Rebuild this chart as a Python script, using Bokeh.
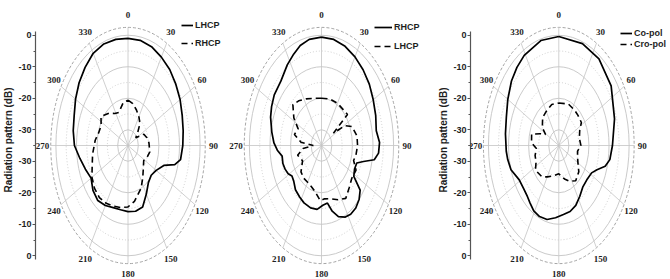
import numpy as np
from bokeh.plotting import figure
from bokeh.models import (Range1d, LinearAxis, FixedTicker, Legend, LegendItem,
                          ColumnDataSource, LabelSet)
from bokeh.layouts import row
from bokeh.embed import file_html
from bokeh.resources import INLINE

# ---------------- data ----------------
DB_MIN = -35.0          # centre of the polar plots
DB_OUTER = 2.5          # outer frame ring
ring_major_db = [-30, -20, -10, 0]
ring_minor_db = [-25, -15, -5]
angle_ticks = [0, 30, 60, 90, 120, 150, 180, 210, 240, 270, 300, 330]
angle_labels = [str(a) for a in angle_ticks]
axis_db_ticks = [0, -10, -20, -30]
axis_title = "Radiation pattern (dB)"

# panel 1
p1_lhcp_ang = [0, 10, 20, 30, 40, 50, 60, 70, 80, 90, 100, 105, 110, 120, 130, 140, 150, 160, 170,
               180, 190, 200, 210, 220, 230, 240, 250, 260, 270, 280, 290, 300, 310, 320, 330, 340, 350]
p1_lhcp_db = [-1.0, -1.1, -1.6, -2.6, -3.5, -4.7, -5.8, -7.0, -7.8, -8.4, -9.1, -11.5, -16.5, -19.2,
              -20.3, -19.6, -17.2, -14.2, -13.8, -14.0, -14.3, -14.0, -13.0, -12.2, -12.8, -14.3,
              -13.0, -11.3, -9.0, -8.0, -7.2, -5.6, -4.0, -2.6, -1.2, -0.7, -0.8]
p1_rhcp_ang = [0, 10, 20, 31, 40, 50, 57, 65, 75, 85, 101, 112, 122, 135, 145, 155, 163, 170, 180,
               190, 200, 210, 220, 230, 240, 250, 261, 276, 286, 296, 305, 318, 328, 337, 350]
p1_rhcp_db = [-20.6, -21.5, -23.0, -24.6, -26.0, -29.0, -30.5, -26.5, -25.5, -24.8, -24.2, -25.0,
              -26.0, -24.5, -22.5, -20.0, -18.7, -17.0, -15.5, -15.0, -14.5, -13.8, -13.4, -13.8,
              -14.8, -16.5, -17.6, -19.0, -20.2, -20.5, -19.0, -21.2, -23.0, -23.6, -21.3]
p1_names = ["LHCP", "RHCP"]

# panel 2
p2_rhcp_ang = [0, 10, 20, 30, 40, 50, 60, 70, 80, 88, 95, 100, 104, 108, 115, 122, 127, 133, 140,
               147, 153, 160, 166, 171, 178, 186, 195, 205, 213, 222, 230, 236, 241, 247, 253, 260,
               266, 272, 280, 290, 297, 305, 316, 327, 335, 342, 350]
p2_rhcp_db = [-0.6, -0.8, -1.5, -2.5, -3.6, -4.7, -6.0, -7.0, -8.0, -6.8, -7.2, -9.0, -14.0, -17.0,
              -17.3, -16.5, -11.5, -10.0, -9.1, -9.0, -9.5, -11.0, -13.5, -16.5, -16.0, -14.6,
              -14.5, -14.9, -15.5, -16.1, -17.4, -17.7, -16.5, -15.8, -15.4, -15.6, -13.5, -11.9,
              -10.5, -8.7, -7.8, -7.0, -6.6, -4.5, -3.0, -1.6, -0.8]
p2_lhcp_ang = [0, 15, 30, 45, 52, 56, 61, 68, 80, 90, 100, 107, 115, 125, 135, 145, 155, 165, 175,
               182, 192, 200, 210, 220, 230, 242, 255, 264, 270, 276, 285, 295, 303, 313, 322, 333, 345]
p2_lhcp_db = [-20.0, -19.7, -19.5, -19.4, -19.0, -28.0, -22.0, -19.0, -17.5, -17.5, -18.0, -18.7,
              -16.5, -17.0, -16.0, -14.5, -16.0, -17.5, -18.0, -17.5, -20.0, -21.0, -21.5, -21.5,
              -22.0, -24.6, -23.0, -26.0, -31.0, -25.0, -21.4, -22.5, -19.0, -16.0, -17.0, -18.4, -19.5]
p2_names = ["RHCP", "LHCP"]

# panel 3
p3_co_ang = [0, 20, 36, 54, 73, 90, 100, 106, 112, 118, 128, 138, 147, 156, 165, 174, 184, 194, 203,
             211, 218, 224, 232, 241, 252, 260, 266, 278, 289, 300, 311, 320, 329, 345]
p3_co_db = [-0.4, -0.6, -1.0, -2.8, -6.0, -8.3, -9.2, -11.0, -14.5, -16.5, -17.3, -17.2, -15.8, -14.2,
            -13.3, -13.0, -12.0, -10.8, -10.5, -10.8, -11.8, -12.5, -12.8, -12.5, -10.0, -9.2, -8.8,
            -8.2, -7.4, -5.7, -3.8, -2.6, -1.6, -0.5]
p3_cx_ang = [0, 20, 35, 45, 57, 65, 77, 90, 101, 111, 120, 130, 143, 155, 165, 180, 195, 210, 220,
             236, 245, 255, 265, 274, 285, 292, 298, 305, 318, 330, 345]
p3_cx_db = [-21.5, -21.0, -21.3, -21.5, -21.6, -23.5, -24.5, -24.0, -25.5, -25.0, -24.0, -22.0, -21.0,
            -22.5, -24.0, -26.0, -25.0, -23.5, -22.0, -21.0, -22.5, -22.8, -23.8, -21.4, -21.0, -25.0,
            -27.5, -25.0, -23.0, -22.5, -21.5]
p3_names = ["Co-pol", "Cro-pol"]

# ---------------- style / layout ----------------
H = 279
SX = 2.06   # px per dB horizontally
SY = 3.15   # px per dB vertically
CY = 145    # centre y within figure (px from top)
SANS = "Liberation Sans"
GRID = "#c4c4c4"
TXT = "#1e1e1e"


def polar_xy(ang, db):
    a = np.radians(np.asarray(list(ang) + [ang[0]], float))
    r = np.asarray(list(db) + [db[0]], float) - DB_MIN
    return r * np.sin(a), r * np.cos(a)


def panel(width, left_border, cx, with_axis):
    xlo = (left_border - cx) / SX
    xhi = (width - cx) / SX
    yhi = CY / SY
    ylo = -(H - CY) / SY
    p = figure(width=width, height=H, x_range=Range1d(xlo, xhi), y_range=Range1d(ylo, yhi),
               x_axis_type=None, y_axis_type=None, output_backend="svg", toolbar_location=None,
               min_border_left=left_border, min_border_right=0, min_border_top=0,
               min_border_bottom=0, outline_line_color=None, background_fill_color="white")
    p.xgrid.visible = False
    p.ygrid.visible = False

    rmaj = [d - DB_MIN for d in ring_major_db]
    rmin = [d - DB_MIN for d in ring_minor_db]
    p.ellipse(x=[0] * len(rmaj), y=[0] * len(rmaj), width=[2 * r for r in rmaj],
              height=[2 * r for r in rmaj], fill_color=None, line_color=GRID, line_width=0.9)
    p.ellipse(x=[0] * len(rmin), y=[0] * len(rmin), width=[2 * r for r in rmin],
              height=[2 * r for r in rmin], fill_color=None, line_color=GRID, line_width=0.8,
              line_dash="1 2")
    ro = DB_OUTER - DB_MIN
    p.ellipse(x=[0], y=[0], width=[2 * ro], height=[2 * ro], fill_color=None,
              line_color="#9a9a9a", line_width=0.9, line_dash="3 2")
    a = np.radians(angle_ticks)
    p.segment(x0=0, y0=0, x1=ro * np.sin(a), y1=ro * np.cos(a), line_color=GRID, line_width=0.8)

    rl = np.array([40.8 if t == 180 else 41.5 for t in angle_ticks])
    src = ColumnDataSource(dict(x=rl * np.sin(a), y=rl * np.cos(a), t=angle_labels))
    p.add_layout(LabelSet(x="x", y="y", text="t", source=src, text_align="center",
                          text_baseline="middle", text_font=SANS, text_font_size="9px",
                          text_font_style="bold", text_color=TXT))

    if with_axis:
        ticks = [d - DB_MIN for d in axis_db_ticks] + [-(d - DB_MIN) for d in axis_db_ticks[::-1]]
        labels = [str(d) for d in axis_db_ticks] + [str(d) for d in axis_db_ticks[::-1]]
        minor = [t - 5 for t in ticks[:4]] + [t + 5 for t in ticks[4:]]
        ax = LinearAxis(ticker=FixedTicker(ticks=ticks, minor_ticks=minor),
                        major_label_overrides={t: l for t, l in zip(ticks, labels)},
                        axis_label=axis_title, bounds=(-36.3, 36.3))
        ax.axis_line_color = "#555555"
        ax.axis_line_width = 1.2
        ax.major_tick_out = 3
        ax.major_tick_in = 0
        ax.minor_tick_out = 2
        ax.minor_tick_in = 0
        ax.major_tick_line_color = "#555555"
        ax.minor_tick_line_color = "#555555"
        ax.major_label_standoff = 1
        ax.major_label_text_font = SANS
        ax.major_label_text_font_size = "9px"
        ax.major_label_text_font_style = "bold"
        ax.major_label_text_color = TXT
        ax.axis_label_standoff = 1
        ax.axis_label_text_font = SANS
        ax.axis_label_text_font_size = "10px"
        ax.axis_label_text_font_style = "bold"
        ax.axis_label_text_color = TXT
        p.add_layout(ax, "left")
    return p


def curves(p, a1, d1, a2, d2, names, loc, gw, spacing):
    x1, y1 = polar_xy(a1, d1)
    x2, y2 = polar_xy(a2, d2)
    r1 = p.line(x1, y1, line_color="black", line_width=1.7)
    r2 = p.line(x2, y2, line_color="black", line_width=1.6, line_dash="6 4")
    leg = Legend(items=[LegendItem(label=names[0], renderers=[r1]),
                        LegendItem(label=names[1], renderers=[r2])],
                 location=loc, orientation="vertical", border_line_color=None,
                 background_fill_alpha=0, label_text_font=SANS, label_text_font_size="9px",
                 label_text_font_style="bold", label_text_color=TXT, glyph_width=gw,
                 glyph_height=10, label_height=10, label_standoff=2, spacing=spacing,
                 padding=0, margin=0)
    p.add_layout(leg)


# figure 1: page x 0..222, frame from 35
p1 = panel(222, 35, 127.5, True)
curves(p1, p1_lhcp_ang, p1_lhcp_db, p1_rhcp_ang, p1_rhcp_db, p1_names, (181 - 35, 231), 12, 8)
# figure 2: page x 222..435
p2 = panel(213, 0, 321 - 222, False)
curves(p2, p2_rhcp_ang, p2_rhcp_db, p2_lhcp_ang, p2_lhcp_db, p2_names, (374 - 222, 228), 18, 9)
# figure 3: page x 435..670, frame from 465
p3 = panel(235, 30, 555.5 - 435, True)
curves(p3, p3_co_ang, p3_co_db, p3_cx_ang, p3_cx_db, p3_names, (615 - 465, 230), 12, 1)

layout = row(p1, p2, p3, spacing=0)
open("out.html", "w").write(file_html(layout, INLINE))
